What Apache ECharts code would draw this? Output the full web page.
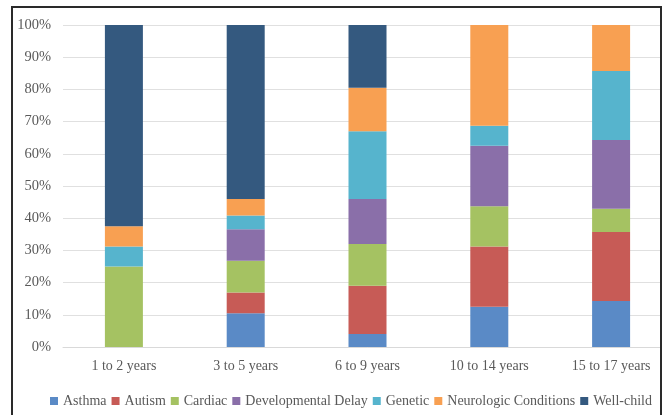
<!DOCTYPE html>
<html>
<head>
<meta charset="utf-8">
<script src="https://cdn.jsdelivr.net/npm/echarts@6/dist/echarts.min.js"></script>
<style>
html,body{margin:0;padding:0;background:#fff;overflow:hidden;width:662px;height:415px;}
#c{width:680px;height:415px;}
</style>
</head>
<body>
<div id="c"></div>
<script>
var categories = ['1 to 2 years', '3 to 5 years', '6 to 9 years', '10 to 14 years', '15 to 17 years'];
var asthma = [0, 10.5, 4, 12.5, 14.3];
var autism = [0, 6.4, 15, 18.75, 21.4];
var cardiac = [25, 9.9, 13, 12.5, 7.2];
var devDelay = [0, 9.8, 14, 18.75, 21.4];
var genetic = [6.25, 4.2, 21, 6.25, 21.4];
var neuro = [6.25, 5.2, 13.5, 31.25, 14.3];
var wellChild = [62.5, 54, 19.5, 0, 0];
var yTicks = [0, 10, 20, 30, 40, 50, 60, 70, 80, 90, 100];

var seriesDefs = [
  ['Asthma', asthma, '#5a8ac6'],
  ['Autism', autism, '#c75b56'],
  ['Cardiac', cardiac, '#a5c262'],
  ['Developmental Delay', devDelay, '#8a6fa9'],
  ['Genetic', genetic, '#56b4cd'],
  ['Neurologic Conditions', neuro, '#f8a052'],
  ['Well-child', wellChild, '#34597f']
];

var font = 'Liberation Serif, Times New Roman, serif';
var chart = echarts.init(document.getElementById('c'), null, {renderer: 'canvas'});
chart.setOption({
  animation: false,
  backgroundColor: '#fff',
  textStyle: {fontFamily: font},
  grid: {left: 63, top: 25, width: 609, height: 322, containLabel: false},
  legend: {
    left: 45, top: 389,
    itemWidth: 8, itemHeight: 8, itemGap: 5,
    icon: 'rect',
    textStyle: {fontFamily: font, fontSize: 14, color: '#595959'},
    data: seriesDefs.map(function (s) { return s[0]; })
  },
  xAxis: {
    type: 'category',
    data: categories,
    axisLine: {lineStyle: {color: '#d9d9d9', width: 1}},
    axisTick: {show: false},
    axisLabel: {fontFamily: font, fontSize: 14, color: '#595959', margin: 12}
  },
  yAxis: {
    type: 'value',
    min: yTicks[0], max: yTicks[yTicks.length - 1], interval: 10,
    axisLine: {show: false},
    axisTick: {show: false},
    splitLine: {lineStyle: {color: '#e0e0e0', width: 1}},
    axisLabel: {fontFamily: font, fontSize: 14.5, color: '#595959', margin: 12,
      formatter: function (v) { return v + '%'; }}
  },
  series: seriesDefs.map(function (s) {
    return {
      name: s[0], type: 'bar', stack: 'total', data: s[1],
      barWidth: 38,
      itemStyle: {color: s[2]}
    };
  }),
  graphic: [{
    type: 'rect', silent: true, z: 100,
    shape: {x: 12, y: 7, width: 649, height: 430},
    style: {fill: 'none', stroke: '#2a2a2a', lineWidth: 2}
  }]
});
</script>
</body>
</html>
